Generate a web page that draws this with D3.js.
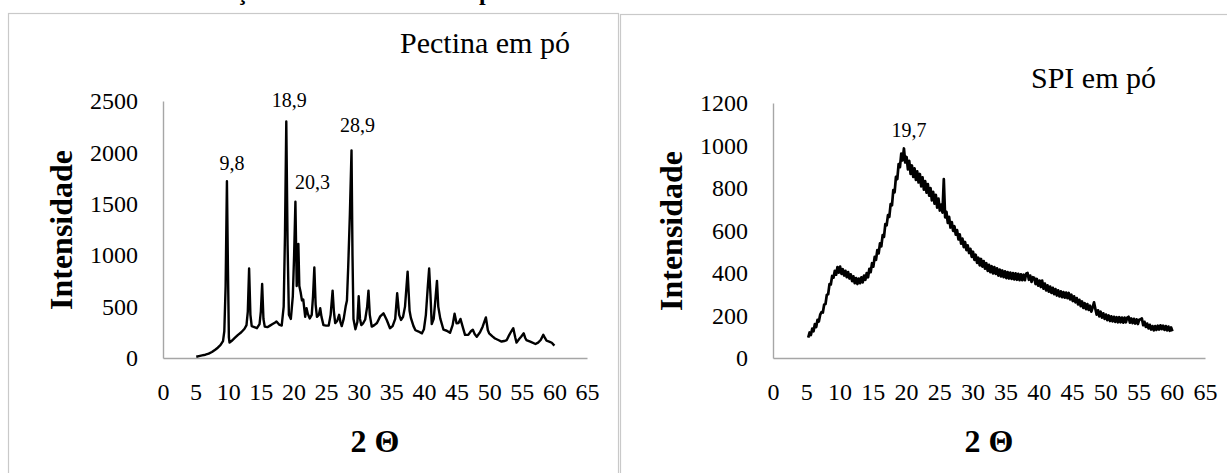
<!DOCTYPE html>
<html>
<head>
<meta charset="utf-8">
<script src="https://cdn.jsdelivr.net/npm/d3@7/dist/d3.min.js"></script>
<style>
  html, body { margin: 0; padding: 0; background: #ffffff; }
  svg { display: block; }
  text { font-family: "Liberation Serif", "Times New Roman", serif; fill: #000; }
</style>
</head>
<body>
<svg id="fig" width="1227" height="473"></svg>
<script>
// ---- X-ray diffraction data (2θ in degrees, intensity in counts) ----

// Pectina em pó
const pectinTheta = [5.1,5.5,6.0,6.5,7.0,7.5,8.0,8.4,8.8,9.2,9.4,9.6,9.8,9.95,10.1,10.2,10.5,11.0,11.5,12.0,12.5,12.8,13.0,13.2,13.4,13.6,14.0,14.4,14.8,15.0,15.2,15.4,15.6,16.0,16.4,16.8,17.2,17.4,17.8,18.2,18.5,18.7,18.9,19.1,19.3,19.6,19.9,20.1,20.3,20.5,20.75,20.9,21.1,21.3,21.5,21.8,22.0,22.2,22.5,22.8,23.0,23.2,23.4,23.6,23.9,24.1,24.3,24.6,25.0,25.4,25.7,26.0,26.2,26.4,26.7,27.0,27.2,27.4,27.7,28.0,28.2,28.4,28.65,28.9,29.05,29.2,29.5,29.8,30.0,30.2,30.4,30.7,31.0,31.3,31.5,31.7,32.0,32.4,32.8,33.3,33.8,34.3,34.8,35.2,35.6,35.9,36.2,36.5,36.8,37.1,37.5,37.8,38.0,38.4,38.7,39.1,39.7,40.0,40.3,40.6,40.8,41.0,41.2,41.5,41.8,42.0,42.2,42.5,43.0,43.5,44.0,44.4,44.7,45.0,45.3,45.6,46.0,46.3,46.8,47.2,47.5,47.8,48.1,48.6,49.0,49.5,49.8,50.0,50.5,50.9,51.4,51.9,52.3,52.7,53.0,53.4,53.7,54.0,54.2,54.6,54.9,55.3,55.5,55.7,56.3,57.1,57.5,57.9,58.3,58.6,58.8,59.2,59.6,60.0];
const pectinIntensity = [12,18,25,32,42,58,80,100,125,165,260,700,1720,900,200,150,165,195,225,250,285,320,450,870,420,310,300,290,330,450,720,380,305,300,315,330,345,355,325,315,500,1200,2300,1100,420,380,600,1000,1520,700,1110,700,640,560,570,400,485,430,385,420,600,880,520,400,420,485,400,320,315,315,420,655,450,340,360,420,350,310,380,500,560,900,1400,2020,1000,380,280,350,600,380,320,340,375,500,655,420,305,320,340,405,435,370,290,310,380,630,420,370,400,500,840,460,390,310,270,260,240,280,420,700,870,620,330,380,600,750,500,385,275,265,245,320,430,338,340,380,290,225,225,260,275,230,207,250,305,395,270,240,210,190,175,160,165,175,215,260,290,200,150,185,207,240,200,175,160,136,150,175,225,190,168,160,148,120];
const pectinPeaks = [9.8, 18.9, 20.3, 28.9];

// SPI em pó: scan from 5.3° to 60.1° with a 0.2° step
const spiStart = 5.3;
const spiStep = 0.2;
const spiIntensity = [
  96,120,108,138,126,160,146,180,172,204,
  216,214,252,254,298,300,348,346,386,378,
  410,392,428,402,430,396,418,388,410,380,
  404,374,394,362,384,352,376,348,374,352,
  380,356,388,368,400,380,420,404,446,430,
  476,462,508,492,540,526,578,570,630,624,
  672,664,724,718,790,780,852,842,912,898,
  962,930,986,920,946,888,928,866,906,852,
  892,838,878,826,866,808,850,792,832,778,
  818,764,800,742,782,726,768,708,750,694,
  722,684,842,662,688,636,664,614,640,598,
  620,580,602,558,582,538,562,522,546,508,
  530,494,514,476,500,462,486,448,472,436,
  466,430,456,420,446,410,438,404,432,398,
  428,396,422,388,416,384,412,380,408,376,
  404,374,402,372,400,370,398,368,396,366,
  394,366,392,366,398,400,368,388,358,380,
  378,348,372,340,364,334,364,326,350,318,
  342,312,336,306,330,300,324,294,318,290,
  314,286,310,284,308,282,306,276,298,268,
  290,262,282,252,274,244,266,236,258,230,
  254,226,246,218,238,262,232,204,224,196,
  218,190,210,184,204,178,200,174,196,172,
  194,170,192,168,192,168,190,166,190,168,
  190,194,166,186,164,184,162,182,160,180,
  182,186,154,170,146,162,139,156,134,150,
  130,150,132,152,134,154,136,152,132,150,
  130,148,128,144,126
];
const spiPeaks = [19.7];

// Axis ticks
const thetaTicks = [0,5,10,15,20,25,30,35,40,45,50,55,60,65];
const pectinYTicks = [0,500,1000,1500,2000,2500];
const spiYTicks = [0,200,400,600,800,1000,1200];

// Titles
const pectinTitle = "Pectina em pó";
const spiTitle = "SPI em pó";
const yTitle = "Intensidade";
const xTitle = "2 Θ";

// ---- drawing ----
const serif = '"Liberation Serif", "Times New Roman", serif';
const svg = d3.select("#fig");
const fmt = d => d.toString().replace(".", ",");

// caption line above the panels (mostly outside the page)
svg.append("text").attr("x", 182).attr("y", -0.5)
  .attr("font-size", 24).attr("font-weight", "bold").text("Difração");
svg.append("text").attr("x", 479).attr("y", -0.5)
  .attr("font-size", 24).attr("font-weight", "bold").text("pó");

function panel(cfg) {
  const g = svg.append("g");
  // frame of the chart area
  g.append("rect")
    .attr("x", cfg.box[0] + 0.5).attr("y", cfg.box[1] + 0.5)
    .attr("width", cfg.box[2]).attr("height", cfg.box[3])
    .attr("fill", "none").attr("stroke", "#c9c9c9").attr("stroke-width", 1.2);

  const x = d3.scaleLinear().domain([0, 65]).range(cfg.xr);
  const y = d3.scaleLinear().domain([0, cfg.yMax]).range(cfg.yr);

  const xAxis = g.append("g").attr("transform", `translate(0,${cfg.yr[0]})`)
    .call(d3.axisBottom(x).tickValues(thetaTicks).tickSize(0).tickPadding(25).tickFormat(d => d));
  const yAxis = g.append("g").attr("transform", `translate(${cfg.xr[0]},0)`)
    .call(d3.axisLeft(y).tickValues(cfg.yTicks).tickSize(0).tickPadding(25).tickFormat(d => d));
  [xAxis, yAxis].forEach(a => {
    a.attr("font-family", serif).attr("font-size", 24);
    a.select(".domain").attr("stroke", "#a6a6a6").attr("stroke-width", 1.4);
    a.selectAll("text").attr("font-family", serif).attr("font-size", 24).attr("fill", "#000");
  });

  const line = d3.line().x(d => x(d[0])).y(d => y(d[1]));
  g.append("path").datum(cfg.data)
    .attr("fill", "none").attr("stroke", "#000").attr("stroke-width", cfg.lineWidth)
    .attr("stroke-linejoin", "round").attr("d", line);

  // peak position labels, placed just above each peak
  cfg.peaks.forEach(p => {
    let best = cfg.data[0];
    cfg.data.forEach(d => { if (Math.abs(d[0] - p) < Math.abs(best[0] - p)) best = d; });
    const off = cfg.labelOffset[p] || [4, -12];
    g.append("text").attr("x", x(best[0]) + off[0]).attr("y", y(best[1]) + off[1])
      .attr("text-anchor", "middle").attr("font-size", 20).text(fmt(p));
  });

  g.append("text").attr("x", cfg.titlePos[0]).attr("y", cfg.titlePos[1])
    .attr("font-size", 30).text(cfg.title);

  g.append("text")
    .attr("transform", `translate(${cfg.yTitlePos[0]},${cfg.yTitlePos[1]}) rotate(-90)`)
    .attr("text-anchor", "middle").attr("font-size", 32).attr("font-weight", "bold").text(yTitle);

  g.append("text").attr("x", (cfg.xr[0] + cfg.xr[1]) / 2).attr("y", 452)
    .attr("text-anchor", "middle").attr("font-size", 32).attr("font-weight", "bold").text(xTitle);
}

const pectinData = pectinTheta.map((t, i) => [t, pectinIntensity[i]]);
const spiData = spiIntensity.map((v, i) => [+(spiStart + i * spiStep).toFixed(1), v]);

panel({
  box: [8, 13, 610, 470], xr: [163, 587], yr: [358, 101], yMax: 2500,
  yTicks: pectinYTicks, data: pectinData, peaks: pectinPeaks, lineWidth: 2.4,
  labelOffset: { 9.8: [5, -11], 18.9: [3, -15], 20.3: [17, -13], 28.9: [6, -18] },
  title: pectinTitle, titlePos: [400, 53], yTitlePos: [72, 230]
});
panel({
  box: [620, 14, 620, 470], xr: [773, 1205], yr: [358, 103], yMax: 1200,
  yTicks: spiYTicks, data: spiData, peaks: spiPeaks, lineWidth: 2.7,
  labelOffset: { 19.7: [5, -11] },
  title: spiTitle, titlePos: [1031, 88], yTitlePos: [682, 231]
});
</script>
</body>
</html>
